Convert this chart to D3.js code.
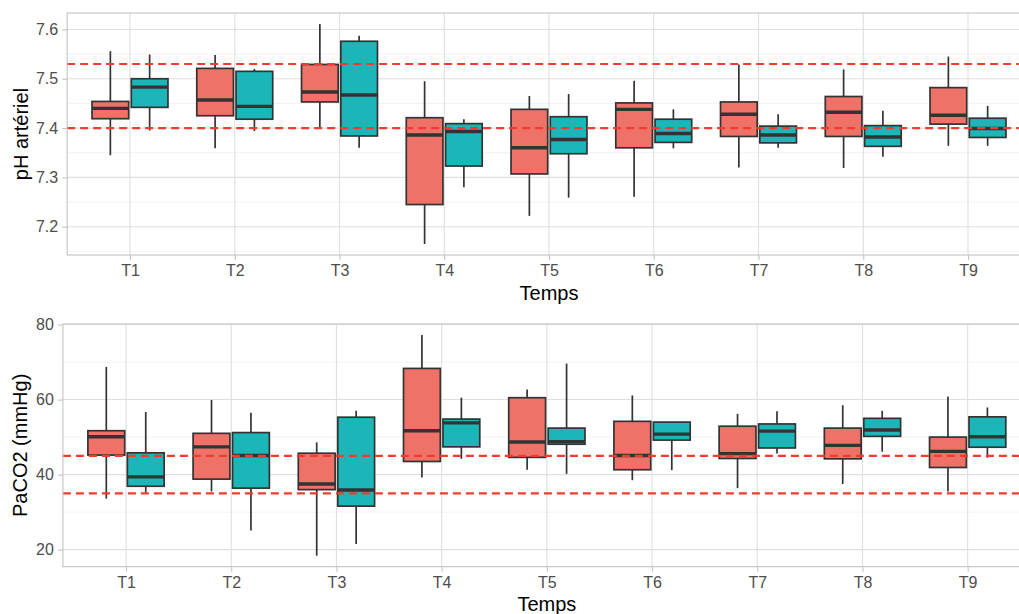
<!DOCTYPE html>
<html>
<head>
<meta charset="utf-8">
<script src="https://cdn.jsdelivr.net/npm/d3@7"></script>
<style>
  html, body { margin: 0; padding: 0; background: #ffffff; }
  svg { display: block; font-family: "Liberation Sans", Arial, Helvetica, sans-serif; }
</style>
</head>
<body>
<svg id="chart" width="1019" height="614"></svg>
<script>
// ---------- DATA ----------
const categories = ["T1", "T2", "T3", "T4", "T5", "T6", "T7", "T8", "T9"];
// each entry: [min, q1, median, q3, max]
const phGroup1 = [
  [7.345, 7.419, 7.440, 7.454, 7.556],
  [7.359, 7.425, 7.457, 7.521, 7.548],
  [7.401, 7.453, 7.473, 7.529, 7.611],
  [7.165, 7.245, 7.386, 7.421, 7.495],
  [7.222, 7.307, 7.360, 7.438, 7.465],
  [7.261, 7.360, 7.438, 7.451, 7.496],
  [7.320, 7.383, 7.428, 7.453, 7.529],
  [7.319, 7.383, 7.432, 7.464, 7.519],
  [7.364, 7.408, 7.426, 7.482, 7.545]
];
const phGroup2 = [
  [7.395, 7.442, 7.483, 7.500, 7.549],
  [7.394, 7.418, 7.444, 7.515, 7.520],
  [7.360, 7.384, 7.467, 7.576, 7.587],
  [7.280, 7.323, 7.393, 7.409, 7.418],
  [7.259, 7.348, 7.377, 7.423, 7.469],
  [7.359, 7.371, 7.389, 7.418, 7.438],
  [7.360, 7.370, 7.386, 7.404, 7.428],
  [7.342, 7.363, 7.382, 7.405, 7.435],
  [7.364, 7.381, 7.399, 7.420, 7.445]
];
const pco2Group1 = [
  [33.6, 45.2, 50.1, 51.7, 68.7],
  [35.5, 38.8, 47.4, 51.0, 59.9],
  [18.4, 36.0, 37.5, 45.7, 48.6],
  [39.2, 43.5, 51.7, 68.3, 77.2],
  [41.3, 44.6, 48.7, 60.5, 62.7],
  [38.5, 41.3, 45.1, 54.2, 61.1],
  [36.4, 44.3, 45.6, 52.9, 56.2],
  [37.5, 44.2, 47.8, 52.4, 58.5],
  [35.5, 41.9, 46.2, 50.0, 60.8]
];
const pco2Group2 = [
  [35.2, 36.9, 39.4, 45.8, 56.7],
  [25.1, 36.4, 45.1, 51.2, 56.5],
  [21.5, 31.6, 35.9, 55.3, 57.0],
  [44.2, 47.4, 53.8, 54.8, 60.5],
  [40.2, 48.1, 48.8, 52.4, 69.6],
  [41.2, 49.2, 50.8, 54.0, 54.0],
  [45.6, 47.1, 51.6, 53.5, 56.9],
  [46.1, 50.2, 51.9, 55.0, 57.0],
  [44.5, 47.3, 50.1, 55.4, 57.9]
];
const phRefLines = [7.40, 7.53];
const pco2RefLines = [35, 45];
const phTicks = [7.2, 7.3, 7.4, 7.5, 7.6];
const phMinorTicks = [7.15, 7.25, 7.35, 7.45, 7.55];
const pco2Ticks = [20, 40, 60, 80];
const pco2MinorTicks = [30, 50, 70];
const groupColors = ["#EE7268", "#1CB6B8"];

// ---------- DRAW ----------
const svg = d3.select("#chart");

function drawPanel(cfg) {
  const { left, right, top, bottom, groups, refs, ticks, minorTicks, fmt, yTitle, yTitleX, xTitleY } = cfg;
  const g = svg.append("g");

  const x = d3.scalePoint().domain(categories).range([left, right]).padding(0.6);
  const step = x.step();

  const allVals = groups.flat(2);
  const [mn, mx] = d3.extent(allVals);
  const pad = (mx - mn) * 0.05;
  const y = d3.scaleLinear().domain([mn - pad, mx + pad]).range([bottom, top]);

  // minor grid
  g.selectAll(".minor").data(minorTicks).join("line")
    .attr("x1", left).attr("x2", right)
    .attr("y1", d => y(d)).attr("y2", d => y(d))
    .attr("stroke", "#EFEFEF").attr("stroke-width", 0.8);
  // major grid
  g.selectAll(".major").data(ticks).join("line")
    .attr("x1", left).attr("x2", right)
    .attr("y1", d => y(d)).attr("y2", d => y(d))
    .attr("stroke", "#DFDFDF").attr("stroke-width", 1.1);
  g.selectAll(".vgrid").data(categories).join("line")
    .attr("x1", d => x(d)).attr("x2", d => x(d))
    .attr("y1", top).attr("y2", bottom)
    .attr("stroke", "#DFDFDF").attr("stroke-width", 1.1);

  // boxes
  const boxW = step * 0.35;
  const offsets = [-0.1875 * step, 0.1875 * step];
  groups.forEach((series, gi) => {
    const bg = g.append("g");
    const items = series.map((s, i) => ({ cat: categories[i], s }));
    const cx = d => x(d.cat) + offsets[gi];
    bg.selectAll(".wh").data(items).join("line")
      .attr("x1", cx).attr("x2", cx)
      .attr("y1", d => y(d.s[0])).attr("y2", d => y(d.s[1]))
      .attr("stroke", "#333333").attr("stroke-width", 1.7);
    bg.selectAll(".wh2").data(items).join("line")
      .attr("x1", cx).attr("x2", cx)
      .attr("y1", d => y(d.s[3])).attr("y2", d => y(d.s[4]))
      .attr("stroke", "#333333").attr("stroke-width", 1.7);
    bg.selectAll(".box").data(items).join("rect")
      .attr("x", d => cx(d) - boxW / 2).attr("width", boxW)
      .attr("y", d => y(d.s[3])).attr("height", d => y(d.s[1]) - y(d.s[3]))
      .attr("fill", groupColors[gi]).attr("stroke", "#333333").attr("stroke-width", 1.7);
    bg.selectAll(".med").data(items).join("line")
      .attr("x1", d => cx(d) - boxW / 2).attr("x2", d => cx(d) + boxW / 2)
      .attr("y1", d => y(d.s[2])).attr("y2", d => y(d.s[2]))
      .attr("stroke", "#333333").attr("stroke-width", 3.4);
  });

  // reference lines
  g.selectAll(".ref").data(refs).join("line")
    .attr("x1", left).attr("x2", right)
    .attr("y1", d => y(d)).attr("y2", d => y(d))
    .attr("stroke", "#F23B2E").attr("stroke-width", 2.1)
    .attr("stroke-dasharray", "8,5");

  // panel border
  g.append("rect").attr("x", left).attr("y", top)
    .attr("width", right - left).attr("height", bottom - top)
    .attr("fill", "none").attr("stroke", "#C4C4C4").attr("stroke-width", 1.1);

  // axes
  const xAxis = g.append("g").attr("transform", `translate(0,${bottom})`)
    .call(d3.axisBottom(x).tickSize(5).tickPadding(5));
  const yAxis = g.append("g").attr("transform", `translate(${left},0)`)
    .call(d3.axisLeft(y).tickValues(ticks).tickFormat(fmt).tickSize(5).tickPadding(4));
  [xAxis, yAxis].forEach(a => {
    a.select(".domain").remove();
    a.selectAll(".tick line").attr("stroke", "#C4C4C4").attr("stroke-width", 1.1);
    a.selectAll(".tick text").attr("fill", "#4D4D4D").attr("font-size", 16)
      .attr("font-family", "Liberation Sans, Arial, sans-serif");
  });

  // titles
  g.append("text").attr("x", (left + right) / 2 > 560 ? 549 : (left + right) / 2).attr("y", xTitleY)
    .attr("text-anchor", "middle").attr("font-size", 20).attr("fill", "#000").text("Temps");
  g.append("text")
    .attr("transform", `translate(${yTitleX},${(top + bottom) / 2}) rotate(-90)`)
    .attr("text-anchor", "middle").attr("font-size", 20).attr("fill", "#000").text(yTitle);
}

drawPanel({
  left: 67.15, right: 1030.85, top: 13, bottom: 255,
  groups: [phGroup1, phGroup2], refs: phRefLines,
  ticks: phTicks, minorTicks: phMinorTicks, fmt: d3.format(".1f"),
  yTitle: "pH artériel", yTitleX: 28, xTitleY: 300
});
drawPanel({
  left: 62.9, right: 1030.8, top: 324, bottom: 566.7,
  groups: [pco2Group1, pco2Group2], refs: pco2RefLines,
  ticks: pco2Ticks, minorTicks: pco2MinorTicks, fmt: d3.format("d"),
  yTitle: "PaCO2 (mmHg)", yTitleX: 27, xTitleY: 611
});
</script>
</body>
</html>
